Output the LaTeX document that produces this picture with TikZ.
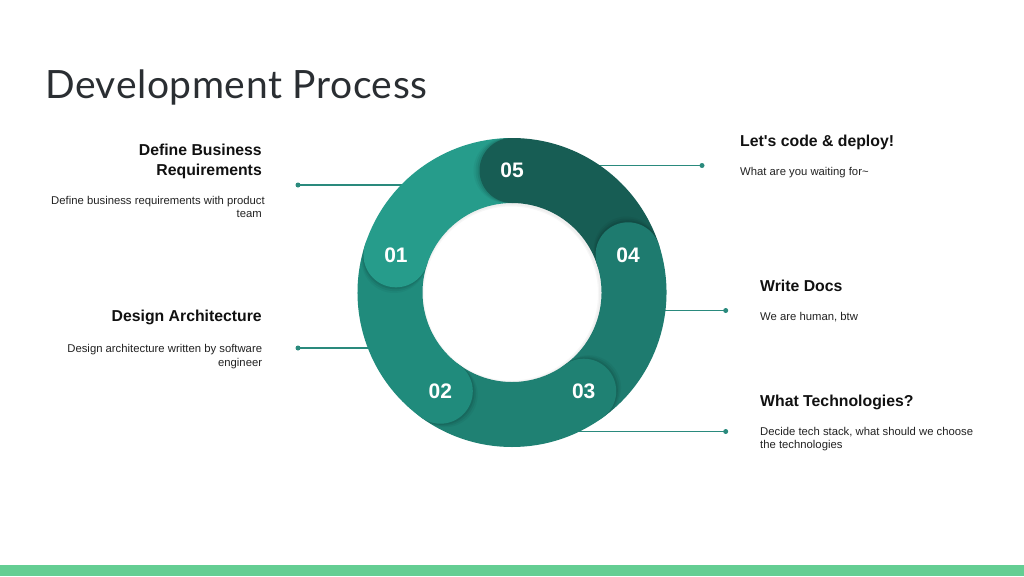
\documentclass[tikz,border=0pt]{standalone}
\usepackage{fontspec}
\newfontfamily\bodyfont{Liberation Sans}
\newfontfamily\titlefont{Lato}[LetterSpace=1.5]
\usetikzlibrary{calc}
\definecolor{segA}{HTML}{269C8B}
\definecolor{segB}{HTML}{208B7C}
\definecolor{segC}{HTML}{1F8173}
\definecolor{segD}{HTML}{1E7B6F}
\definecolor{segE}{HTML}{175D54}
\definecolor{conncol}{HTML}{2A8A7D}
\definecolor{barcol}{HTML}{64CE93}
\definecolor{ink}{HTML}{111111}
\definecolor{ink2}{HTML}{222222}
\definecolor{titlecol}{HTML}{2A2E32}
\tikzset{
  numcap/.style={circle, minimum size=65pt, inner sep=0pt, text=white,
    font=\bodyfont\bfseries\fontsize{21}{21}\selectfont},
  dotnode/.style={circle, fill=conncol, minimum size=5pt, inner sep=0pt},
  conn/.style={draw=conncol, line width=1.5pt},
  head/.style={inner sep=0pt, text=ink, font=\bodyfont\bfseries\fontsize{15.8}{16}\selectfont},
  desc/.style={inner sep=0pt, text=ink2, font=\bodyfont\fontsize{11.3}{13}\selectfont},
}
\begin{document}
\begin{tikzpicture}[x=1pt,y=1pt]
\useasboundingbox (0,0) rectangle (1024,-576);
\fill[white] (0,0) rectangle (1024,-576);
\fill[barcol] (0,-565) rectangle (1024,-576);

% title
\node[anchor=base west, inner sep=0pt, text=titlecol,
  font=\titlefont\fontsize{39}{39}\selectfont] (title) at (45,-98.3) {Development Process};

\coordinate (C) at (512,-292.5);

% connectors
\node[dotnode] (dot1) at (298,-185) {};
\coordinate (end1) at (454,-185);
\node[dotnode] (dot2) at (298,-348) {};
\coordinate (end2) at (403,-348);
\node[dotnode] (dot5) at (702,-165.5) {};
\coordinate (end5) at (571,-165.5);
\node[dotnode] (dot4) at (725.7,-310.5) {};
\coordinate (end4) at (632,-310.5);
\node[dotnode] (dot3) at (725.7,-431.5) {};
\coordinate (end3) at (568,-431.5);
\foreach \i in {1,...,5}{
  \draw[conn] (dot\i.center) -- (end\i);
}

% ring sectors
\foreach \a/\b/\col in {90/18/segE, 18/-54/segD, -54/-126/segC, -126/-198/segB, 162/90/segA}{
  \fill[\col] ($(C)+(\a:154.5)$) arc[start angle=\a, end angle=\b, radius=154.5]
    -- ($(C)+(\b:89.5)$) arc[start angle=\b, end angle=\a, radius=89.5] -- cycle;
}

% shadows of caps and inner hole
\begin{scope}[even odd rule]
  \clip (C) circle[radius=154.5] (C) circle[radius=89.5];
  \foreach \a in {90,18,-54,-126,162}{
    \foreach \k/\op in {6/0.04, 4/0.06, 2/0.08}{
      \fill[black, opacity=\op] ($(C)+(\a:122)+(\a+90:\k)$) circle[radius=32.5];
    }
  }
\end{scope}
\begin{scope}
  \clip (C) circle[radius=89.5];
  \draw[black, opacity=0.03, line width=5pt] ($(C)+(-1,-1)$) circle[radius=89.5];
  \draw[black, opacity=0.03, line width=2.5pt] ($(C)+(-1,-1)$) circle[radius=89.5];
\end{scope}

% caps with numbers
\node[numcap, fill=segE] (n5) at ($(C)+(90:122)$) {05};
\node[numcap, fill=segD] (n4) at ($(C)+(18:122)$) {04};
\node[numcap, fill=segC] (n3) at ($(C)+(-54:122)$) {03};
\node[numcap, fill=segB] (n2) at ($(C)+(-126:122)$) {02};
\node[numcap, fill=segA] (n1) at ($(C)+(162:122)$) {01};

% left texts
\node[head, anchor=base east] (h1a) at (262,-155) {Define Business};
\node[head, anchor=base east] (h1b) at (262,-175) {Requirements};
\node[desc, anchor=base east] (d1a) at (265,-204) {Define business requirements with product};
\node[desc, anchor=base east] (d1b) at (262,-217.5) {team};

\node[head, anchor=base east] (h2) at (262,-321.7) {Design Architecture};
\node[desc, anchor=base east] (d2a) at (262.3,-352.7) {Design architecture written by software};
\node[desc, anchor=base east] (d2b) at (262.3,-366) {engineer};

% right texts
\node[head, anchor=base west] (h5) at (740,-146.7) {Let's code \& deploy!};
\node[desc, anchor=base west] (d5) at (740,-175) {What are you waiting for\textasciitilde};

\node[head, anchor=base west] (h4) at (760,-291.7) {Write Docs};
\node[desc, anchor=base west] (d4) at (760,-320) {We are human, btw};

\node[head, anchor=base west] (h3) at (760,-406) {What Technologies?};
\node[desc, anchor=base west] (d3a) at (760,-435) {Decide tech stack, what should we choose};
\node[desc, anchor=base west] (d3b) at (760,-448.5) {the technologies};
\end{tikzpicture}
\end{document}
